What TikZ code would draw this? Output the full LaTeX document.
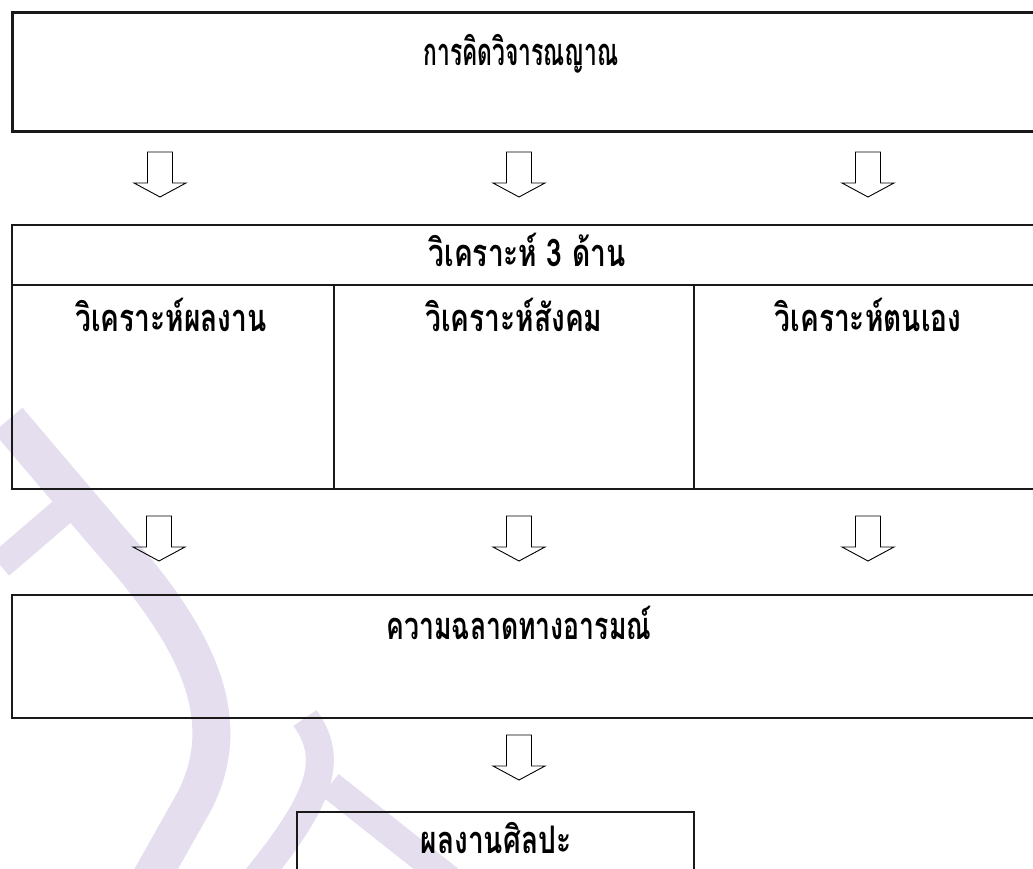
\documentclass[tikz,border=0pt]{standalone}
\usepackage{fontspec}
\usepackage{graphicx}
\newfontfamily\thaifont[Script=Thai]{Loma}
\definecolor{wm}{HTML}{E4DEEE}
\newcommand\thx[2][0.74]{\scalebox{#1}[1]{#2}}
\begin{document}
\begin{tikzpicture}[x={(1pt,0pt)}, y={(0pt,-1pt)},
  box/.style={draw=black!90, line width=2.6pt},
  divider/.style={draw=black!90, line width=1.5pt},
  thai/.style={font=\thaifont\bfseries\fontsize{38}{44}\selectfont, inner sep=0pt, anchor=base},
  wmark/.style={draw=wm, line cap=butt},
  downarrow/.pic={\draw[line width=0.9pt, line join=miter]
     (-12.5,0) -- (-12.5,31) -- (-26,31) -- (0,45) -- (26,31) -- (12.5,31) -- (12.5,0) -- cycle;}]
\useasboundingbox (0,0) rectangle (1033,869);
\clip (0,0) rectangle (1033,869);
% watermark
\draw[wmark, line width=38pt] (8,420) -- (110,540) .. controls (200,640) and (235,720) .. (195,800) -- (150,880);
\draw[wmark, line width=28pt] (70,505) -- (0,565);
\draw[wmark, line width=28pt] (305,718) .. controls (335,760) and (320,800) .. (255,880);
\draw[wmark, line width=28pt] (330,785) -- (450,880);
% boxes
\draw[box, line width=3pt] (12,13) rectangle (1045,132);
\draw[box] (12,225) rectangle (1045,489);
\draw[box] (12,285) -- (1045,285);
\draw[divider] (334,285) -- (334,489);
\draw[divider] (694,285) -- (694,489);
\draw[box] (12,595) rectangle (1045,718);
\draw[box] (297,812) rectangle (694,900);
% texts
\node[thai] (t1) at (521,66) {\thx[0.6]{การคิดวิจารณญาณ}};
\node[thai] (t2) at (527,266) {\thx{วิเคราะห์ 3 ด้าน}};
\node[thai] (c1) at (171,331) {\thx{วิเคราะห์ผลงาน}};
\node[thai] (c2) at (514,331) {\thx{วิเคราะห์สังคม}};
\node[thai] (c3) at (868,331) {\thx{วิเคราะห์ตนเอง}};
\node[thai] (t3) at (519,639) {\thx[0.7]{ความฉลาดทางอารมณ์}};
\node[thai, text depth=0pt] (t4) at (496,853) {\thx{ผลงานศิลปะ}};
% arrows
\coordinate (a1) at (160,152);
\coordinate (a2) at (519,152);
\coordinate (a3) at (868,152);
\coordinate (b1) at (159,516);
\coordinate (b2) at (519,516);
\coordinate (b3) at (868,516);
\coordinate (d1) at (519,735);
\foreach \c in {a1,a2,a3,b1,b2,b3,d1} \pic at (\c) {downarrow};
\end{tikzpicture}
\end{document}
